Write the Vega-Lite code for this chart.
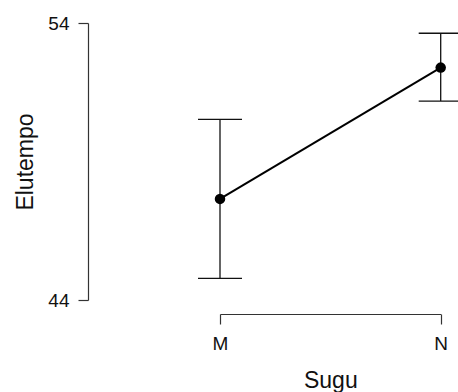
{
  "$schema": "https://vega.github.io/schema/vega-lite/v6.json",
  "autosize": {"type": "none"},
  "padding": {"left": 220, "top": 23, "right": 17.3, "bottom": 92},
  "width": 220.7,
  "height": 277,
  "background": "white",
  "config": {
    "view": {"stroke": null},
    "font": "Liberation Sans",
    "axis": {
      "grid": false,
      "domainColor": "#333333",
      "tickColor": "#333333",
      "domainWidth": 1.2,
      "tickWidth": 1.2,
      "tickSize": 10,
      "labelFontSize": 19,
      "labelColor": "#111111",
      "titleFontSize": 23,
      "titleFontWeight": "normal",
      "titleColor": "#111111"
    },
    "axisY": {"offset": 132, "labelPadding": 9, "titlePadding": 10},
    "axisX": {"offset": 14, "labelPadding": 10, "titlePadding": 16, "labelAngle": 0}
  },
  "data": {
    "values": [
      {"Sugu": "M", "mean": 47.65, "lo": 44.78, "hi": 50.52},
      {"Sugu": "N", "mean": 52.39, "lo": 51.18, "hi": 53.63}
    ]
  },
  "encoding": {
    "x": {"field": "Sugu", "type": "nominal", "title": "Sugu", "scale": {"type": "point", "padding": 0}}
  },
  "layer": [
    {
      "mark": {"type": "rule", "color": "#111111", "strokeWidth": 1.3},
      "encoding": {
        "y": {"field": "lo", "type": "quantitative", "title": "Elutempo", "scale": {"domain": [44, 54], "nice": false, "zero": false}, "axis": {"values": [44, 54]}},
        "y2": {"field": "hi"}
      }
    },
    {
      "mark": {"type": "tick", "size": 44, "thickness": 1.3, "color": "#111111", "opacity": 1},
      "encoding": {
        "y": {"field": "lo", "type": "quantitative", "title": "Elutempo", "axis": {"values": [44, 54]}}
      }
    },
    {
      "mark": {"type": "tick", "size": 44, "thickness": 1.3, "color": "#111111", "opacity": 1},
      "encoding": {
        "y": {"field": "hi", "type": "quantitative", "title": "Elutempo", "axis": {"values": [44, 54]}}
      }
    },
    {
      "mark": {"type": "line", "color": "#000000", "strokeWidth": 2},
      "encoding": {
        "y": {"field": "mean", "type": "quantitative", "title": "Elutempo", "axis": {"values": [44, 54]}}
      }
    },
    {
      "mark": {"type": "point", "filled": true, "size": 110, "color": "#000000", "opacity": 1},
      "encoding": {
        "y": {"field": "mean", "type": "quantitative", "title": "Elutempo", "axis": {"values": [44, 54]}}
      }
    }
  ]
}
